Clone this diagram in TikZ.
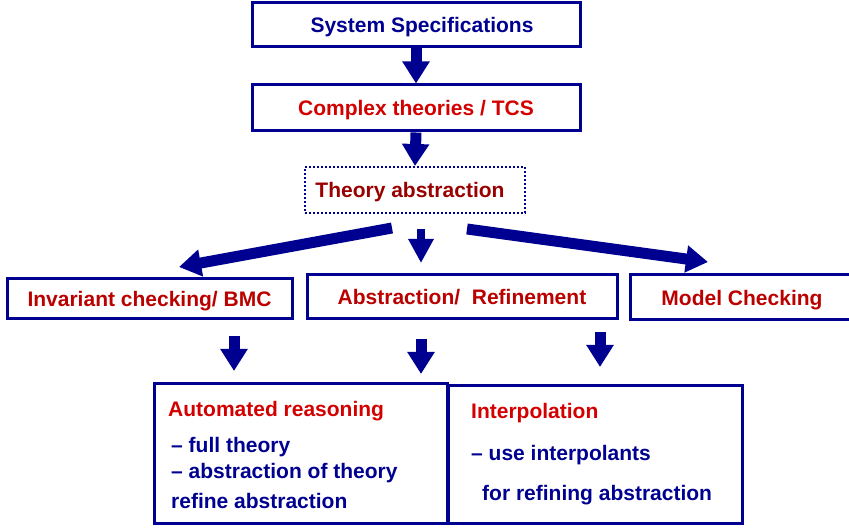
\documentclass[tikz,border=0pt]{standalone}
\usepackage{fontspec}
\setmainfont{Liberation Sans}
\usetikzlibrary{arrows.meta}
\definecolor{navy}{HTML}{000090}
\definecolor{redA}{HTML}{D40000}
\definecolor{redB}{HTML}{990000}
\definecolor{redC}{HTML}{BB0000}
\begin{document}
\begin{tikzpicture}[x=1pt,y=-1pt,
  box/.style={draw=navy,line width=3pt,rectangle,inner sep=0pt,text depth=0pt,font=\fontsize{21}{25}\selectfont\bfseries},
  dbox/.style={draw=navy,line width=2pt,dotted,rectangle,inner sep=0pt,text depth=0pt,font=\fontsize{21}{25}\selectfont\bfseries},
  txt/.style={inner sep=0pt,anchor=base west,font=\fontsize{21}{25}\selectfont\bfseries},
  bigarrow/.style={draw=navy,line width=11pt,-{Triangle[width=26pt,length=22pt]}},
  thinarrow/.style={draw=navy,line width=8pt,-{Triangle[width=24pt,length=24pt]}}]
\useasboundingbox (0,0) rectangle (849,529);
\fill[white] (0,0) rectangle (849,529);

\node[box,text=navy,minimum width=328pt,minimum height=44pt] (spec) at (416,24.5) {\hspace*{12pt}System Specifications};
\node[box,text=redA,minimum width=328pt,minimum height=46pt] (cplx) at (416,108) {Complex theories / TCS};
\node[dbox,text=redB,minimum width=220pt,minimum height=46pt] (abs) at (415,190) {Theory abstraction\hspace*{10pt}};

\draw[bigarrow] (spec.south) -- (cplx.north);
\draw[bigarrow] (cplx.south) -- (abs.north);

\node[box,text=redC,minimum width=285pt,minimum height=40pt] (inv) at (149.5,299) {Invariant checking/ BMC};
\node[box,text=redC,minimum width=310pt,minimum height=44pt] (ar) at (462,297) {Abstraction/\ \ Refinement};
\node[box,text=redC,minimum width=224pt,minimum height=45pt] (mc) at (742,297.5) {Model Checking};

\coordinate (t1) at (392,228);
\coordinate (h1) at (179,267);
\coordinate (t2) at (421,229);
\coordinate (h2) at (421,263);
\coordinate (t3) at (467,229);
\coordinate (h3) at (708,262);
\draw[bigarrow] (t1) -- (h1);
\draw[thinarrow] (t2) -- (h2);
\draw[bigarrow] (t3) -- (h3);

\node[box,minimum width=293pt,minimum height=140pt] (aut) at (300.5,453) {};
\node[box,minimum width=294pt,minimum height=138pt] (itp) at (595,454.5) {};

\coordinate (b1t) at (234,336);
\coordinate (b1h) at (234,371);
\coordinate (b2t) at (421,339);
\coordinate (b2h) at (421,374);
\coordinate (b3t) at (600,332);
\coordinate (b3h) at (600,367);
\draw[bigarrow] (b1t) -- (b1h);
\draw[bigarrow] (b2t) -- (b2h);
\draw[bigarrow] (b3t) -- (b3h);

\node[txt,text=redA] (a1) at (168,416) {Automated reasoning};
\node[txt,text=navy] (a2) at (171,452) {– full theory};
\node[txt,text=navy] (a3) at (171,478) {– abstraction of theory};
\node[txt,text=navy] (a4) at (171,508) {refine abstraction};

\node[txt,text=redA] (i1) at (471,418) {Interpolation};
\node[txt,text=navy] (i2) at (471,460) {– use interpolants};
\node[txt,text=navy] (i3) at (482,500) {for refining abstraction};
\end{tikzpicture}
\end{document}
